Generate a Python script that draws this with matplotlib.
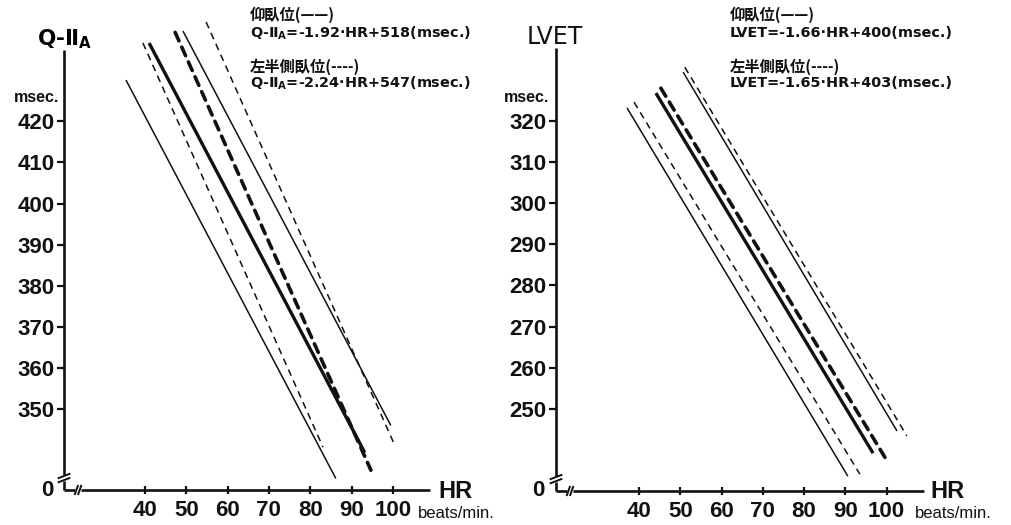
import matplotlib

matplotlib.use("Agg")
import matplotlib.pyplot as plt  # noqa: E402
from matplotlib import font_manager  # noqa: E402

# --- data ---------------------------------------------------------------------
hr_ticks = [40, 50, 60, 70, 80, 90, 100]
qii_ticks = [350, 360, 370, 380, 390, 400, 410, 420]
lvet_ticks = [250, 260, 270, 280, 290, 300, 310, 320]

# line order: supine band low, lateral band low, supine fit, lateral fit,
#             supine band high, lateral band high
line_roles = ["supine_band", "lateral_band", "supine_fit", "lateral_fit", "supine_band", "lateral_band"]

qii_hr_start = [35.4, 39.5, 41.0, 47.3, 49.2, 54.8]
qii_hr_end = [86.2, 83.1, 93.2, 94.7, 99.5, 100.5]
qii_ms_start = [430.0, 439.0, 439.0, 441.6, 441.9, 444.1]
qii_ms_end = [333.2, 340.8, 339.5, 335.2, 346.1, 341.2]

lvet_hr_start = [37.1, 38.8, 44.1, 45.3, 50.7, 51.1]
lvet_hr_end = [90.6, 93.5, 96.7, 100.3, 102.5, 104.9]
lvet_ms_start = [323.2, 324.6, 326.8, 328.0, 331.9, 333.1]
lvet_ms_end = [233.6, 234.1, 239.2, 237.0, 244.6, 243.4]

qii_eqs = ["Q-Ⅱ$_\\mathregular{A}$=-1.92·HR+518(msec.)", "Q-Ⅱ$_\\mathregular{A}$=-2.24·HR+547(msec.)"]
lvet_eqs = ["LVET=-1.66·HR+400(msec.)", "LVET=-1.65·HR+403(msec.)"]
posture_labels = ["仰臥位(——)", "左半側臥位(----)"]

# --- styling ------------------------------------------------------------------
_INK = "#111111"
_STYLES = {
    "supine_fit": dict(lw=2.4, ls="-"),
    "lateral_fit": dict(lw=2.6, ls=(0, (2.6, 1.9)), dash_capstyle="round"),
    "supine_band": dict(lw=1.1, ls="-"),
    "lateral_band": dict(lw=1.1, ls=(0, (4.5, 3.3))),
}

_names = {f.name for f in font_manager.fontManager.ttflist}
_NARROW = "Liberation Sans Narrow" if "Liberation Sans Narrow" in _names else "Liberation Sans"
_WIDE = "DejaVu Sans"
_CJK = ["Noto Sans CJK JP", "DejaVu Sans"]

W, H = 1011, 525


def _px(x, y):
    return x / W, 1 - y / H


def draw_panel(fig, rect, xlim, ylim, ybounds, yticks, hr0, hr1, ms0, ms1):
    ax = fig.add_axes(rect)
    ax.set_xlim(*xlim)
    ax.set_ylim(*ylim)
    for s in ("top", "right", "bottom", "left"):
        ax.spines[s].set_visible(False)

    for a, b, c, d, role in zip(hr0, hr1, ms0, ms1, line_roles):
        ax.plot([a, b], [c, d], color=_INK, solid_capstyle="butt", **_STYLES[role])

    # axes drawn by hand so the breaks can be shown
    x0, y0 = xlim[0], ybounds[0]
    axis_kw = dict(color=_INK, lw=1.9, clip_on=False, solid_capstyle="butt")
    ax.plot([x0, x0], [y0 + 3.6, ybounds[1]], **axis_kw)
    ax.plot([x0, x0], [y0, y0 + 2.2], **axis_kw)
    for dy in (2.4, 3.4):
        ax.plot([x0 - 1.3, x0 + 1.3], [y0 + dy - 0.5, y0 + dy + 0.5], color=_INK, lw=1.4, clip_on=False)
    ax.plot([x0, x0 + 2.6], [y0, y0], **axis_kw)
    ax.plot([x0 + 4.2, 109.0], [y0, y0], **axis_kw)
    for dx in (3.0, 3.8):
        ax.plot([x0 + dx - 0.35, x0 + dx + 0.35], [y0 - 1.0, y0 + 1.0], color=_INK, lw=1.4, clip_on=False)

    ax.set_xticks(hr_ticks)
    ax.set_yticks(yticks)
    ax.tick_params(axis="y", direction="out", length=5, width=1.6, pad=2, colors=_INK)
    ax.tick_params(axis="x", direction="inout", length=6, width=1.6, pad=4, colors=_INK)
    for lab in ax.get_xticklabels() + ax.get_yticklabels():
        lab.set_fontfamily(_NARROW)
        lab.set_fontweight("bold")
        lab.set_fontsize(16)
    ax.patch.set_visible(False)
    return ax


fig = plt.figure(figsize=(W / 100, H / 100), dpi=100, facecolor="white")

# left panel: Q-IIA
ax1 = draw_panel(fig, [64 / W, 35 / H, 366 / W, 475 / H], (20.4, 109.0), (330.4, 445.8),
                 (330.4, 437.3), qii_ticks, qii_hr_start, qii_hr_end, qii_ms_start, qii_ms_end)
# right panel: LVET
ax2 = draw_panel(fig, [556 / W, 34 / H, 367 / W, 476 / H], (19.9, 108.8), (230.0, 345.8),
                 (230.0, 337.8), lvet_ticks, lvet_hr_start, lvet_hr_end, lvet_ms_start, lvet_ms_end)

bold_narrow = dict(family=_NARROW, weight="bold", color=_INK)

# titles
fig.text(*_px(37, 39), "Q-Ⅱ$_\\mathregular{A}$", family=_WIDE, weight="bold", fontsize=15.5, va="center", ha="left")
fig.text(*_px(527, 37), "LVET", family=_WIDE, fontsize=17, va="center", ha="left", color=_INK)

# unit labels, zeros, HR
for xm, x0l, xhr, xbm, yb in ((37, 47, 455, 418, 490), (527, 538, 947, 915, 491)):
    fig.text(*_px(xm, 97), "msec.", fontsize=11.5, va="center", ha="center", **bold_narrow)
    fig.text(*_px(x0l, yb), "0", fontsize=16, va="center", ha="center", **bold_narrow)
    fig.text(*_px(xhr, yb + 1), "HR", family="Liberation Sans", weight="bold", fontsize=17,
             va="center", ha="center", color=_INK)
    fig.text(*_px(xbm, 514), "beats/min.", family=_NARROW, fontsize=12, va="center", ha="left", color=_INK)

# equations
for xl, eqs in ((250, qii_eqs), (730, lvet_eqs)):
    for i, (lab, eq) in enumerate(zip(posture_labels, eqs)):
        fig.text(*_px(xl, 15 + 52 * i), lab, family=_CJK, weight="bold", fontsize=11,
                 va="center", ha="left", color=_INK)
        fig.text(*_px(xl, 33 + 50 * i), eq, family=_WIDE, weight="bold", fontsize=10.4,
                 va="center", ha="left", color=_INK)

fig.savefig("out.png", dpi=100, facecolor="white")
